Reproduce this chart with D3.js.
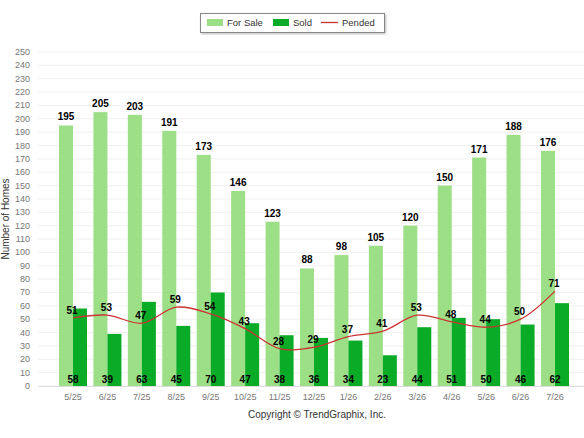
<!DOCTYPE html><html><head><meta charset="utf-8"><script src="https://cdn.jsdelivr.net/npm/d3@7"></script>
<style>body{margin:0;background:#fff}svg{font-family:Arial,"Liberation Sans",sans-serif}</style></head><body><svg width="584" height="438"></svg><script>
const categories=["5/25","6/25","7/25","8/25","9/25","10/25","11/25","12/25","1/26","2/26","3/26","4/26","5/26","6/26","7/26"];
const forSale=[195,205,203,191,173,146,123,88,98,105,120,150,171,188,176];
const sold=[58,39,63,45,70,47,38,36,34,23,44,51,50,46,62];
const pended=[51,53,47,59,54,43,28,29,37,41,53,48,44,50,71];
const yTicks=d3.range(0,251,10);
const svg=d3.select("svg");
const x=d3.scalePoint().domain(categories).range([73,555]);
const y=d3.scaleLinear().domain([0,250]).range([386,52]);
const bw=14;
svg.append("g").selectAll("line").data(yTicks).join("line").attr("x1",38).attr("x2",584).attr("y1",d=>y(d)).attr("y2",d=>y(d)).attr("stroke","#f0f0f0");
svg.append("g").selectAll("text").data(yTicks).join("text").attr("x",30).attr("y",d=>y(d)+3).attr("text-anchor","end").attr("font-size",9).attr("fill","#777").text(d=>d);
svg.append("line").attr("x1",38).attr("x2",584).attr("y1",386.5).attr("y2",386.5).attr("stroke","#ddd");
svg.append("g").selectAll("rect").data(forSale).join("rect").attr("x",(d,i)=>x(categories[i])-bw).attr("width",bw).attr("y",d=>y(d)).attr("height",d=>y(0)-y(d)).attr("fill","#9ddf86");
svg.append("g").selectAll("rect").data(sold).join("rect").attr("x",(d,i)=>x(categories[i])).attr("width",bw).attr("y",d=>y(d)).attr("height",d=>y(0)-y(d)).attr("fill","#0aab26");
const line=d3.line().x((d,i)=>x(categories[i])).y(d=>y(d)).curve(d3.curveCatmullRom.alpha(0.5));
svg.append("path").attr("d",line(pended)).attr("fill","none").attr("stroke","#cc3333").attr("stroke-width",1.3);
svg.append("g").selectAll("text").data(forSale).join("text").attr("x",(d,i)=>x(categories[i])-bw/2).attr("y",d=>y(d)-5).attr("text-anchor","middle").attr("font-size",10).attr("font-weight","bold").text(d=>d);
svg.append("g").selectAll("text").data(sold).join("text").attr("x",(d,i)=>x(categories[i])).attr("y",383).attr("text-anchor","middle").attr("font-size",10).attr("font-weight","bold").text(d=>d);
svg.append("g").selectAll("text").data(pended).join("text").attr("x",(d,i)=>x(categories[i])-1).attr("y",d=>y(d)-4).attr("text-anchor","middle").attr("font-size",10).attr("font-weight","bold").text(d=>d);
svg.append("g").selectAll("text").data(categories).join("text").attr("x",d=>x(d)).attr("y",400).attr("text-anchor","middle").attr("font-size",9).attr("fill","#777").text(d=>d);
svg.append("text").attr("transform","translate(9,219) rotate(-90)").attr("text-anchor","middle").attr("font-size",10).attr("fill","#333").text("Number of Homes");
svg.append("text").attr("x",317).attr("y",418).attr("text-anchor","middle").attr("font-size",10).attr("fill","#333").text("Copyright © TrendGraphix, Inc.");
const lg=svg.append("g");
lg.append("rect").attr("x",200.5).attr("y",13.5).attr("width",184).attr("height",19).attr("fill","#fff").attr("stroke","#888").style("filter","drop-shadow(1px 1px 1px #bbb)");
lg.append("rect").attr("x",207).attr("y",19).attr("width",16).attr("height",7).attr("fill","#9ddf86");
lg.append("text").attr("x",227).attr("y",26).attr("font-size",9.5).attr("fill","#333").text("For Sale");
lg.append("rect").attr("x",273).attr("y",19).attr("width",16).attr("height",7).attr("fill","#0aab26");
lg.append("text").attr("x",293).attr("y",26).attr("font-size",9.5).attr("fill","#333").text("Sold");
lg.append("line").attr("x1",321).attr("x2",338).attr("y1",22.5).attr("y2",22.5).attr("stroke","#cc3333").attr("stroke-width",1.3);
lg.append("text").attr("x",342).attr("y",26).attr("font-size",9.5).attr("fill","#333").text("Pended");
</script></body></html>
